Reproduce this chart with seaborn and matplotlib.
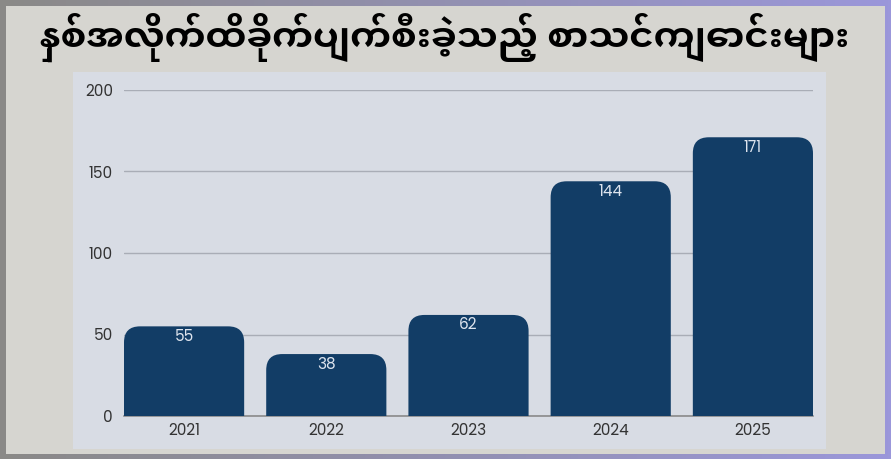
import numpy as np
import pandas as pd
import seaborn as sns
import matplotlib as mpl
import matplotlib.pyplot as plt
from matplotlib.patches import FancyBboxPatch, Rectangle

# Data
title = "နှစ်အလိုက်ထိခိုက်ပျက်စီးခဲ့သည့် စာသင်ကျောင်းများ"
years = ["2021", "2022", "2023", "2024", "2025"]
schools = [55, 38, 62, 144, 171]
yticks = [0, 50, 100, 150, 200]

bar_color = "#123d66"
panel_color = "#d8dce4"
frame_color = "#d6d5d0"

sns.set_theme(style="white")
plt.rcParams['font.family'] = ["Poppins", "DejaVu Sans"]

df = pd.DataFrame({"year": years, "schools": schools})

W, H = 891, 459
fig = plt.figure(figsize=(W / 100, H / 100), dpi=100)

# gradient border behind everything
bg = fig.add_axes([0, 0, 1, 1], zorder=-10)
grad = np.linspace(0, 1, 256)[None, :, None]
c0 = np.array(mpl.colors.to_rgb("#8a8987"))
c1 = np.array(mpl.colors.to_rgb("#9b97da"))
bg.imshow(c0 * (1 - grad) + c1 * grad, aspect='auto', extent=[0, 1, 0, 1])
bg.add_patch(Rectangle((6 / W, 5 / H), (885 - 6) / W, (453 - 5) / H,
                       color=frame_color, lw=0))
bg.add_patch(Rectangle((73 / W, (H - 449) / H), (826 - 73) / W, (449 - 72) / H,
                       color=panel_color, lw=0))
bg.set_xlim(0, 1)
bg.set_ylim(0, 1)
bg.axis('off')

# title
fig.text(445 / W, 1 - 37 / H, title, ha='center', va='center',
         fontsize=26.5, fontweight='bold', color='black',
         family=["Noto Sans Myanmar UI", "DejaVu Sans"])

# main axes: x 124..813 px, y 90(200)..416(0)
ax = fig.add_axes([124 / W, (H - 416) / H, (813 - 124) / W, (416 - 90) / H])
ax.set_facecolor('none')
sns.barplot(data=df, x="year", y="schools", color=bar_color, saturation=1,
            width=0.845, ax=ax)

ax.set_ylim(0, 200)
ax.set_xlim(-0.4225, 4.4225)
ax.set_yticks(yticks)
ax.yaxis.grid(True, color="#a9adb6", lw=1)
ax.set_axisbelow(True)
sns.despine(ax=ax, left=True, top=True, right=True, bottom=False)
ax.spines['bottom'].set_color("#8a8a8a")
ax.spines['bottom'].set_linewidth(1.2)
ax.set_xlabel("")
ax.set_ylabel("")
ax.tick_params(axis='both', length=0, labelsize=11, colors="#333333")
ax.tick_params(axis='y', pad=8)
ax.tick_params(axis='x', pad=5)

# swap bars for rounded-top versions
px_x = (813 - 124) / 4.845
px_y = (416 - 90) / 200
rad = 16
for p in list(ax.patches):
    x0, w, h = p.get_x(), p.get_width(), p.get_height()
    p.remove()
    rb = FancyBboxPatch((x0, -40), w, h + 40,
                        boxstyle=f"round,pad=0,rounding_size={rad / px_x}",
                        mutation_aspect=px_x / px_y,
                        fc=bar_color, ec='none', zorder=3)
    ax.add_patch(rb)
    ax.text(x0 + w / 2, h - 10.5 / px_y, f"{h:.0f}", ha='center', va='center',
            color="#dde4ee", fontsize=11, zorder=4)

fig.savefig("out.png", dpi=100)
